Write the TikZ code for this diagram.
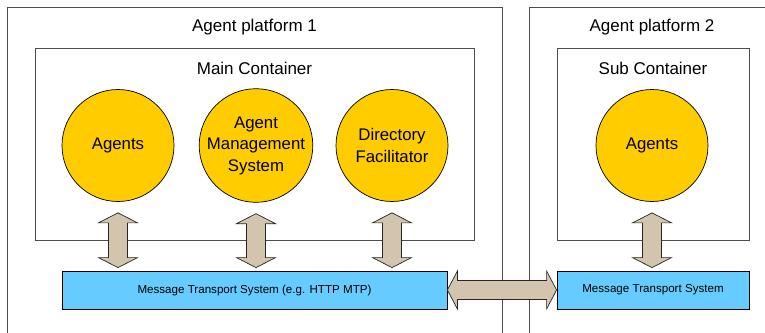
\documentclass[tikz,border=0pt]{standalone}
\usepackage{fontspec}
\setmainfont{Liberation Sans}
\usetikzlibrary{calc}
\definecolor{gold}{HTML}{FFCC00}
\definecolor{tan}{HTML}{D2C4AD}
\definecolor{skyb}{HTML}{66CCFF}
\tikzset{
  platform/.style={draw=black!70, line width=1bp},
  container/.style={draw=black!70, line width=1bp, fill=white},
  title/.style={font=\fontsize{17bp}{21bp}\selectfont, inner sep=0pt},
  agent/.style={circle, draw=black, line width=0.7bp, fill=gold, minimum size=112bp, inner sep=0pt, align=center, font=\fontsize{16.8bp}{21.5bp}\selectfont},
  mts/.style={draw=black, line width=0.8bp, fill=skyb, minimum height=38bp, inner sep=0pt, font=\fontsize{11.6bp}{14bp}\selectfont},
  fat/.style={draw=black!85, line width=0.7bp, fill=tan, line join=miter}
}
\newcommand{\vfat}[2]{%
  \filldraw[fat] let \p1=(#1), \p2=(#2) in
    (\x1,\y1) -- (\x1+19.5bp,\y1-10bp) -- (\x1+9.5bp,\y1-10bp) -- (\x1+9.5bp,\y2+10bp)
    -- (\x1+19.5bp,\y2+10bp) -- (\x1,\y2) -- (\x1-19.5bp,\y2+10bp) -- (\x1-9.5bp,\y2+10bp)
    -- (\x1-9.5bp,\y1-10bp) -- (\x1-19.5bp,\y1-10bp) -- cycle;}
\newcommand{\hfat}[2]{%
  \filldraw[fat] let \p1=(#1), \p2=(#2) in
    (\x1,\y1) -- (\x1+10bp,\y1+19bp) -- (\x1+10bp,\y1+9.5bp) -- (\x2-10bp,\y1+9.5bp)
    -- (\x2-10bp,\y1+19bp) -- (\x2,\y1) -- (\x2-10bp,\y1-19bp) -- (\x2-10bp,\y1-9.5bp)
    -- (\x1+10bp,\y1-9.5bp) -- (\x1+10bp,\y1-19bp) -- cycle;}
\begin{document}
\begin{tikzpicture}[x=1bp, y=-1bp]
\useasboundingbox (0,0) rectangle (765,332);
\clip (0,0) rectangle (765,332);
\fill[white] (0,0) rectangle (765,332);
% platforms
\draw[platform] (7,345) -- (7,7) -- (502,7) -- (502,345);
\draw[platform] (529,345) -- (529,7) -- (780,7);
\node[title] (p1) at (254.5,27) {Agent platform 1};
\node[title] (p2) at (652,27) {Agent platform 2};
% containers
\draw[container] (35,48) rectangle (474,240);
\draw[container] (557,48) rectangle (749,240);
\node[title] (c1) at (254.5,68) {Main Container};
\node[title] (c2) at (653,68) {Sub Container};
% agents
\node[agent] (ag1) at (118,145.5) {Agents};
\node[agent] (ams) at (256,145.5) {Agent\\Management\\System};
\node[agent] (df)  at (392,145.5) {Directory\\Facilitator};
\node[agent] (ag2) at (652,145.5) {Agents};
% MTS
\node[mts, minimum width=385bp] (mts1) at (254.5,290) {Message Transport System (e.g. HTTP MTP)};
\node[mts, minimum width=192bp] (mts2) at (653,290) {Message Transport System};
% arrows
\foreach \a in {ag1,ams,df}{
  \vfat{$(\a.south)+(0,11)$}{$(\a.south|-mts1.north)+(0,-3)$}
}
\vfat{$(ag2.south)+(0,11)$}{$(ag2.south|-mts2.north)+(0,-3)$}
\hfat{mts1.east}{mts2.west}
\end{tikzpicture}
\end{document}
